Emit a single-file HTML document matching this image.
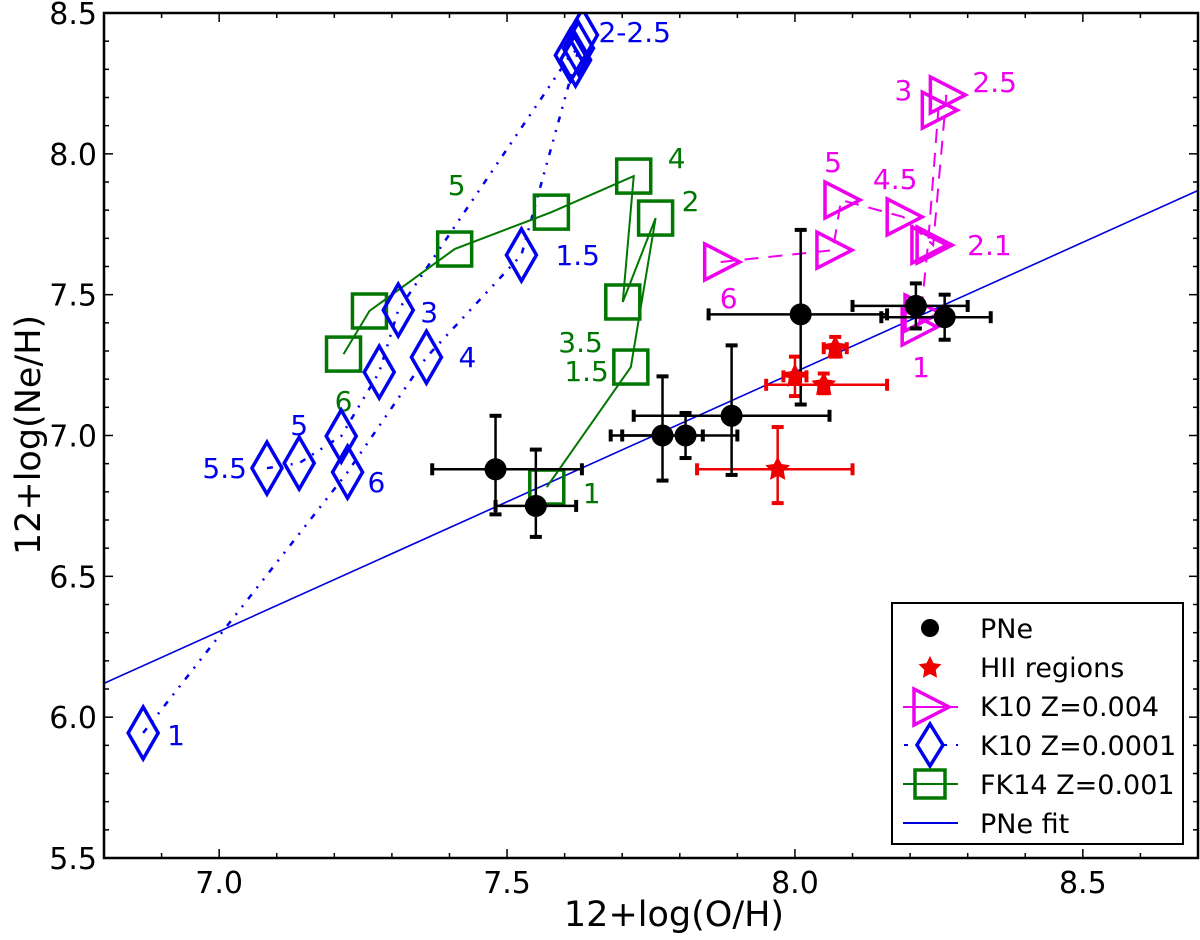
<!DOCTYPE html>
<html><head><meta charset="utf-8"><style>
html,body{margin:0;padding:0;background:#fff}
svg{display:block;font-family:"DejaVu Sans","Liberation Sans",sans-serif}
</style></head><body>
<svg id="chart" width="1200" height="940" viewBox="0 0 1200 940"></svg>
<script>
const xTicks=[7.0,7.5,8.0,8.5];
const yTicks=[5.5,6.0,6.5,7.0,7.5,8.0,8.5];
const pneX=[7.48,7.55,7.77,7.81,7.89,8.01,8.21,8.26];
const pneY=[6.88,6.75,7.00,7.00,7.07,7.43,7.46,7.42];
const pneXlo=[7.37,7.48,7.68,7.70,7.72,7.85,8.10,8.15];
const pneXhi=[7.63,7.62,7.84,7.90,8.06,8.16,8.30,8.34];
const pneYlo=[6.72,6.64,6.84,6.92,6.86,7.11,7.38,7.34];
const pneYhi=[7.07,6.95,7.21,7.08,7.32,7.73,7.54,7.50];
const hiiX=[7.97,8.00,8.05,8.07];
const hiiY=[6.88,7.21,7.18,7.31];
const hiiXlo=[7.83,7.98,7.95,8.05];
const hiiXhi=[8.10,8.02,8.16,8.09];
const hiiYlo=[6.76,7.14,7.15,7.28];
const hiiYhi=[7.03,7.28,7.22,7.35];
const k4X=[7.871,8.066,8.080,8.188,8.240,8.263,8.249,8.231,8.219,8.214];
const k4Y=[7.616,7.658,7.836,7.776,7.676,8.209,8.155,7.676,7.435,7.385];
const k4Lab=["6","","5","4.5","2.1","2.5","3","","1",""];
const kAX=[6.868,7.223,7.360,7.525,7.619,7.631];
const kAY=[5.944,6.870,7.278,7.641,8.333,8.422];
const kALab=["1","6","4","1.5","","2-2.5"];
const kBX=[7.083,7.139,7.212,7.278,7.311,7.610,7.624];
const kBY=[6.884,6.902,6.998,7.225,7.445,8.350,8.375];
const kBLab=["5.5","5","","","3","",""];
const fkX=[7.569,7.715,7.758,7.701,7.720,7.577,7.409,7.261,7.216];
const fkY=[6.817,7.243,7.772,7.474,7.921,7.793,7.662,7.442,7.289];
const fkLab=["1","1.5","2","3.5","4","","5","","6"];
const fitX=[6.8,8.7];
const fitY=[6.12,7.87];

const svg=document.getElementById('chart');
const NS='http://www.w3.org/2000/svg';
const L=104,R=1198,T=13,B=858;
const sx=v=>L+(v-6.8)*(R-L)/1.9;
const sy=v=>B-(v-5.5)*(B-T)/3.0;
function mk(tag,at,parent){const e=document.createElementNS(NS,tag);for(const k in at)e.setAttribute(k,at[k]);(parent||svg).appendChild(e);return e;}
function txt(x,y,s,size,fill,anchor,parent){const t=mk('text',{x:x,y:y,'font-size':size,fill:fill,'text-anchor':anchor||'start'},parent);t.textContent=s;return t;}

const clip=mk('clipPath',{id:'pc'});mk('rect',{x:L,y:T,width:R-L,height:B-T},clip);
const plot=mk('g',{'clip-path':'url(#pc)'});



const fit=mk('line',{x1:sx(fitX[0]),y1:sy(fitY[0]),x2:sx(fitX[1]),y2:sy(fitY[1]),stroke:'#0000dd','stroke-width':1.6},plot);



function poly(xs,ys,color,dash,w,name){const p=mk('polyline',{points:xs.map((v,i)=>sx(v)+','+sy(ys[i])).join(' '),fill:'none',stroke:color,'stroke-width':w,'stroke-dasharray':dash},plot);

}
poly(kAX,kAY,'#0000ee','6 8 2 8 2 8',2.5,'k10-z0001-track-a');
poly(kBX,kBY,'#0000ee','6 8 2 8 2 8',2.5,'k10-z0001-track-b');
poly(fkX,fkY,'#007700','none',2,'fk14-line');
poly(k4X,k4Y,'#ee00ee','14 10',2,'k10-z004-line');

function diamond(x,y,g){mk('polygon',{points:`${x},${y-26} ${x+15},${y} ${x},${y+26} ${x-15},${y}`,fill:'none',stroke:'#0000ee','stroke-width':3.5},g);}
function square(x,y,g){mk('rect',{x:x-17,y:y-17,width:34,height:34,fill:'none',stroke:'#007700','stroke-width':3.5},g);}
function tri(x,y,g){mk('polygon',{points:`${x-16},${y-18} ${x+19},${y} ${x-16},${y+18}`,fill:'none',stroke:'#ee00ee','stroke-width':3.5},g);}

function series(xs,ys,labs,fn,col,name,offs){const g=mk('g',{},plot);


xs.forEach((v,i)=>{fn(sx(v),sy(ys[i]),g);if(labs[i]){const o=offs[i]||[0,0,'start'];txt(sx(v)+o[0],sy(ys[i])+o[1],labs[i],28,col,o[2],g);}});}
series(fkX,fkY,fkLab,square,'#007700','fk14-series',{0:[36,16,'start'],1:[-22,14,'end'],2:[26,-7,'start'],3:[-20,50,'end'],4:[34,-8,'start'],6:[2,-54,'middle'],8:[0,57,'middle']});
series(kAX,kAY,kALab,diamond,'#0000ee','k10-z0001-series-a',{0:[24,12,'start'],1:[20,20,'start'],2:[32,10,'start'],3:[34,10,'start'],5:[16,7,'start']});
series(kBX,kBY,kBLab,diamond,'#0000ee','k10-z0001-series-b',{0:[-20,10,'end'],1:[0,-28,'middle'],4:[22,12,'start']});
series(k4X,k4Y,k4Lab,tri,'#ee00ee','k10-z004-series',{0:[8,46,'middle'],2:[-8,-28,'middle'],3:[-8,-28,'middle'],4:[34,10,'start'],5:[26,-3,'start'],6:[-26,-10,'end'],8:[0,64,'middle']});

function errs(xs,ys,xlo,xhi,ylo,yhi,col,name){const g=mk('g',{stroke:col,'stroke-width':2.5},plot);


xs.forEach((v,i)=>{const x=sx(v),y=sy(ys[i]);
mk('line',{x1:sx(xlo[i]),y1:y,x2:sx(xhi[i]),y2:y},g);
mk('line',{x1:x,y1:sy(ylo[i]),x2:x,y2:sy(yhi[i])},g);
mk('line',{x1:sx(xlo[i]),y1:y-6,x2:sx(xlo[i]),y2:y+6,'stroke-width':4},g);
mk('line',{x1:sx(xhi[i]),y1:y-6,x2:sx(xhi[i]),y2:y+6,'stroke-width':4},g);
mk('line',{x1:x-6,y1:sy(ylo[i]),x2:x+6,y2:sy(ylo[i]),'stroke-width':4},g);
mk('line',{x1:x-6,y1:sy(yhi[i]),x2:x+6,y2:sy(yhi[i]),'stroke-width':4},g);});}
errs(hiiX,hiiY,hiiXlo,hiiXhi,hiiYlo,hiiYhi,'#ee0000','hii-errorbars');
errs(pneX,pneY,pneXlo,pneXhi,pneYlo,pneYhi,'#000','pne-errorbars');
function star(x,y,r,g,col){let p=[];for(let k=0;k<10;k++){const a=-Math.PI/2+k*Math.PI/5,rr=k%2?r*0.5:r;p.push((x+rr*Math.cos(a))+','+(y+rr*Math.sin(a)));}mk('polygon',{points:p.join(' '),fill:col},g);}
const hg=mk('g',{},plot);


hiiX.forEach((v,i)=>star(sx(v),sy(hiiY[i]),13,hg,'#ee0000'));
const pg=mk('g',{},plot);


pneX.forEach((v,i)=>mk('circle',{cx:sx(v),cy:sy(pneY[i]),r:11,fill:'#000'},pg));

const ax=mk('g',{});


mk('rect',{x:L,y:T,width:R-L,height:B-T,fill:'none',stroke:'#000','stroke-width':2.5},ax);
for(let v=6.8;v<=8.71;v+=0.1){const x=sx(v);const maj=xTicks.some(t=>Math.abs(t-v)<1e-6);const len=maj?9:5;
mk('line',{x1:x,y1:B,x2:x,y2:B-len,stroke:'#000','stroke-width':1.5},ax);mk('line',{x1:x,y1:T,x2:x,y2:T+len,stroke:'#000','stroke-width':1.5},ax);}
xTicks.forEach(v=>txt(sx(v),B+35,v.toFixed(1),30,'#000','middle',ax));
for(let v=5.5;v<=8.51;v+=0.1){const y=sy(v);const maj=yTicks.some(t=>Math.abs(t-v)<1e-6);const len=maj?9:5;
mk('line',{x1:L,y1:y,x2:L+len,y2:y,stroke:'#000','stroke-width':1.5},ax);mk('line',{x1:R,y1:y,x2:R-len,y2:y,stroke:'#000','stroke-width':1.5},ax);}
yTicks.forEach(v=>txt(L-7,sy(v)+11,v.toFixed(1),30,'#000','end',ax));
const xl=txt(674,926,'12+log(O/H)',35,'#000','middle');


const yl=txt(0,0,'12+log(Ne/H)',35,'#000','middle');
yl.setAttribute('transform','translate(40,435) rotate(-90)');



const lg=mk('g',{});


mk('rect',{x:892,y:603,width:291,height:241,fill:'#fff',stroke:'#000','stroke-width':2},lg);
const rows=['PNe','HII regions','K10 Z=0.004','K10 Z=0.0001','FK14 Z=0.001','PNe fit'];
rows.forEach((s,i)=>{const y=628+i*39;const cx=930;
const e=mk('g',{},lg);


if(i==0)mk('circle',{cx:cx,cy:y,r:9,fill:'#000'},e);
if(i==1)star(cx,y+1,12,e,'#ee0000');
if(i==2){mk('line',{x1:903,y1:y+1,x2:958,y2:y+1,stroke:'#ee00ee','stroke-width':2},e);tri(cx,y+1,e);}
if(i==3){mk('line',{x1:904,y1:y,x2:958,y2:y,stroke:'#0000ee','stroke-width':2,'stroke-dasharray':'4 9'},e);mk('polygon',{points:`${cx},${y-21} ${cx+13},${y} ${cx},${y+21} ${cx-13},${y}`,fill:'#fff',stroke:'#0000ee','stroke-width':3.5},e);}
if(i==4){mk('line',{x1:903,y1:y,x2:958,y2:y,stroke:'#007700','stroke-width':2},e);mk('rect',{x:cx-15,y:y-14,width:30,height:28,fill:'none',stroke:'#007700','stroke-width':3.5},e);}
if(i==5)mk('line',{x1:903,y1:y,x2:958,y2:y,stroke:'#0000dd','stroke-width':2},e);
txt(980,y+10,s,27,'#000','start',e);});
</script>
</body></html>
